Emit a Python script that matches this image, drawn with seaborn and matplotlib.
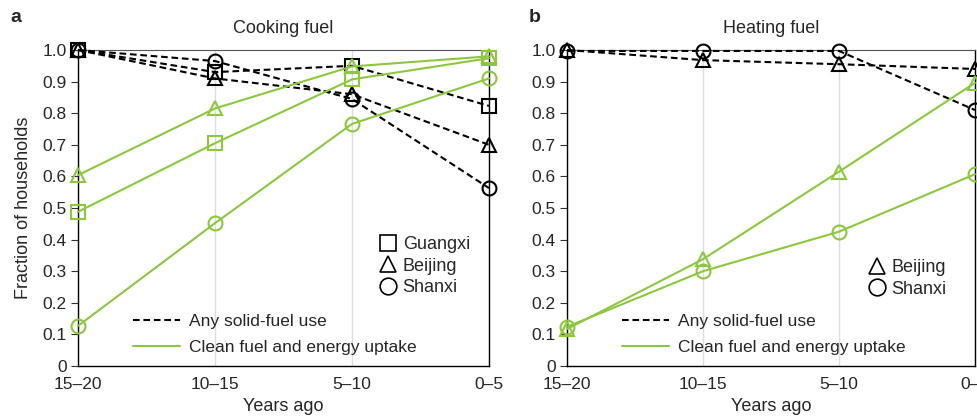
import matplotlib
matplotlib.use("Agg")
import matplotlib.pyplot as plt
from matplotlib.lines import Line2D
import seaborn as sns
import pandas as pd

sns.set_theme(style="white")
plt.rcParams['font.family'] = ['Liberation Sans', 'DejaVu Sans']

periods = ["15–20", "10–15", "5–10", "0–5"]

# Cooking fuel
cook_solid_guangxi = [1.0, 0.93, 0.95, 0.823]
cook_solid_beijing = [1.0, 0.91, 0.86, 0.70]
cook_solid_shanxi = [1.0, 0.965, 0.845, 0.563]
cook_clean_guangxi = [0.488, 0.705, 0.907, 0.974]
cook_clean_beijing = [0.604, 0.815, 0.948, 0.98]
cook_clean_shanxi = [0.127, 0.452, 0.766, 0.91]

# Heating fuel
heat_solid_beijing = [1.0, 0.968, 0.955, 0.94]
heat_solid_shanxi = [0.997, 0.997, 0.997, 0.81]
heat_clean_beijing = [0.117, 0.338, 0.615, 0.896]
heat_clean_shanxi = [0.124, 0.30, 0.425, 0.607]

GREEN = "#8DC63F"
BLACK = "#000000"
MARK = {"Guangxi": "s", "Beijing": "^", "Shanxi": "o"}
DASH = (0, (3.2, 1.8))

fig = plt.figure(figsize=(9.78, 4.17), dpi=100)
axA = fig.add_axes([78/978, 1-366/417, 411/978, 316/417])
axB = fig.add_axes([567/978, 1-366/417, 408/978, 316/417])

def draw(ax, series):
    x = list(range(len(periods)))
    for region, vals, kind in series:
        color = BLACK if kind == "solid" else GREEN
        ls = DASH if kind == "solid" else "-"
        df = pd.DataFrame({"x": x, "y": vals})
        sns.lineplot(data=df, x="x", y="y", ax=ax, color=color,
                     linestyle=ls, linewidth=1.5, marker=MARK[region],
                     markersize=10, markerfacecolor="none",
                     markeredgecolor=color, markeredgewidth=1.5,
                     clip_on=False, zorder=3)
    ax.set_xlim(0, 3)
    ax.set_ylim(0, 1.0)
    ax.set_xticks(x)
    ax.set_xticklabels(periods)
    ax.set_yticks([i/10 for i in range(11)])
    ax.set_yticklabels(["0"] + [f"{i/10:.1f}" for i in range(1, 11)])
    ax.tick_params(axis="y", length=5, width=0.8, color="#333333",
                   labelsize=12.5, pad=3, left=True, direction="out")
    ax.tick_params(axis="x", length=0, labelsize=12.5, pad=8)
    ax.grid(axis="x", color="#dddddd", linewidth=1)
    ax.set_axisbelow(True)
    for s in ["left", "bottom", "right"]:
        ax.spines[s].set_color("black")
        ax.spines[s].set_linewidth(1.0)
    ax.spines["top"].set_color("#555555")
    ax.spines["top"].set_linewidth(0.8)
    ax.set_xlabel("Years ago", fontsize=13, labelpad=4)
    ax.set_ylabel("")

draw(axA, [
    ("Guangxi", cook_solid_guangxi, "solid"),
    ("Beijing", cook_solid_beijing, "solid"),
    ("Shanxi", cook_solid_shanxi, "solid"),
    ("Guangxi", cook_clean_guangxi, "clean"),
    ("Beijing", cook_clean_beijing, "clean"),
    ("Shanxi", cook_clean_shanxi, "clean"),
])
draw(axB, [
    ("Beijing", heat_solid_beijing, "solid"),
    ("Shanxi", heat_solid_shanxi, "solid"),
    ("Beijing", heat_clean_beijing, "clean"),
    ("Shanxi", heat_clean_shanxi, "clean"),
])

axA.set_ylabel("Fraction of households", fontsize=13, labelpad=8)
axA.set_title("Cooking fuel", fontsize=13, pad=12)
axB.set_title("Heating fuel", fontsize=13, pad=12)
fig.text(10/978, 1-17/417, "a", fontsize=14, fontweight="bold", va="center")
fig.text(529/978, 1-17/417, "b", fontsize=14, fontweight="bold", va="center")

def legends(ax, regions, top_px, width_px):
    mh = [Line2D([], [], linestyle="none", marker=MARK[r], markersize=12,
                 markerfacecolor="none", markeredgecolor="black",
                 markeredgewidth=1.2, label=r) for r in regions]
    leg1 = ax.legend(handles=mh, loc="upper left",
                     bbox_to_anchor=((372 - 78) / width_px, (366 - top_px) / 316),
                     frameon=False, fontsize=13, handlelength=0.8,
                     handletextpad=0.4, labelspacing=0.25, borderpad=0)
    ax.add_artist(leg1)
    lh = [Line2D([], [], color="black", linestyle=DASH, linewidth=1.5,
                 label="Any solid-fuel use"),
          Line2D([], [], color=GREEN, linewidth=1.5,
                 label="Clean fuel and energy uptake")]
    ax.legend(handles=lh, loc="upper left",
              bbox_to_anchor=((133 - 78) / width_px, (366 - 314) / 316),
              frameon=False, fontsize=12.5, handlelength=2.7,
              handletextpad=0.5, labelspacing=0.62, borderpad=0,
              borderaxespad=0)

legends(axA, ["Guangxi", "Beijing", "Shanxi"], 227, 411)
legends(axB, ["Beijing", "Shanxi"], 250, 408)

fig.savefig("out.png", dpi=100)
